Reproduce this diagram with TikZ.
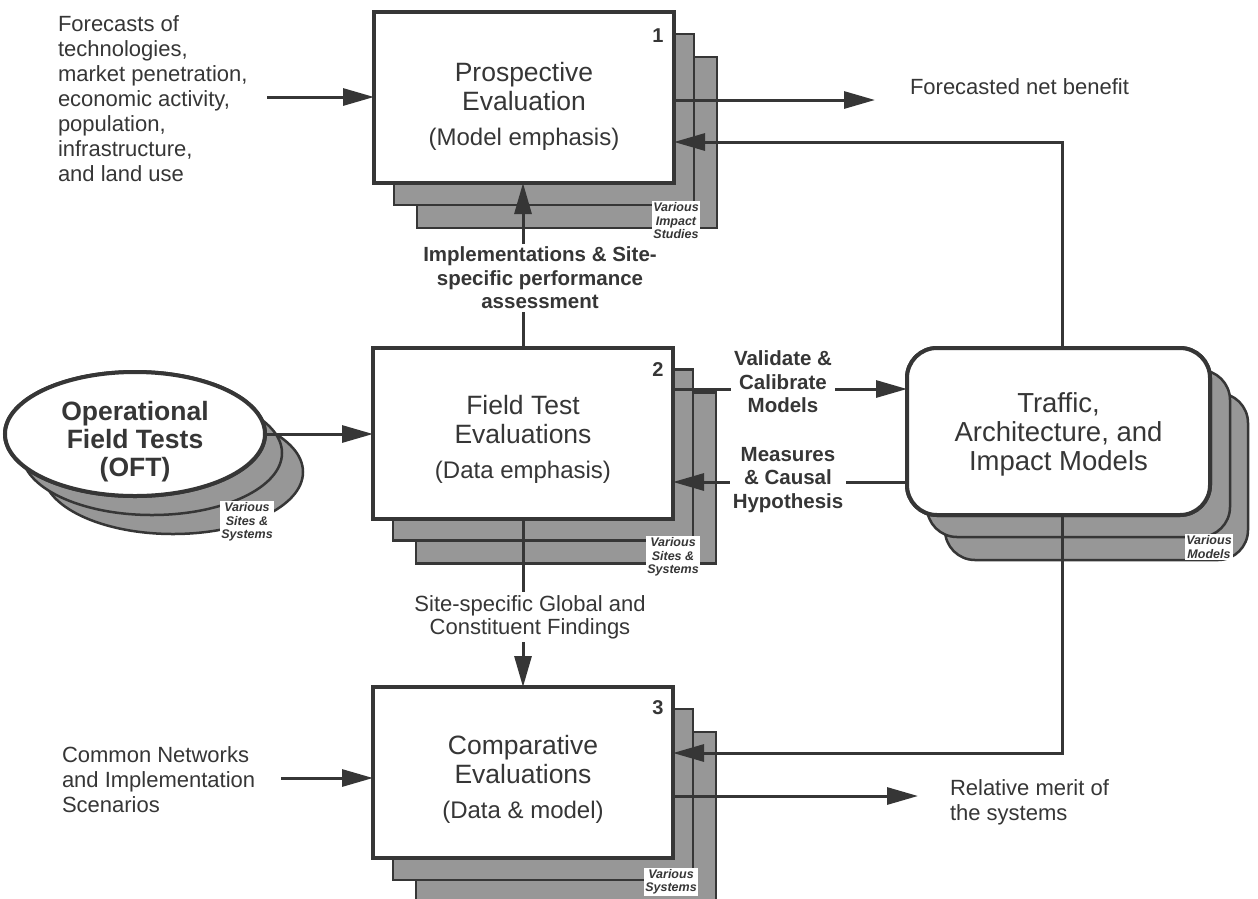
\documentclass[tikz,border=0pt]{standalone}
\usepackage{fontspec}
\setmainfont{Liberation Sans}
\usetikzlibrary{arrows.meta,shapes.geometric}
\definecolor{ink}{HTML}{363636}
\definecolor{shade}{HTML}{979797}
\begin{document}
\begin{tikzpicture}[x=1pt,y=-1pt,
  every node/.style={inner sep=0pt, outer sep=0pt, text=ink},
  frontbox/.style={draw=ink, line width=4pt, fill=white, minimum width=300pt, minimum height=171pt},
  layerbox/.style={draw=ink, line width=2.5pt, fill=shade, minimum width=300pt, minimum height=171pt},
  modelbox/.style={draw=ink, line width=4pt, fill=white, rounded corners=30pt, minimum width=303pt, minimum height=167pt},
  modellayer/.style={draw=ink, line width=2.5pt, fill=shade, rounded corners=30pt, minimum width=303pt, minimum height=167pt},
  oftshape/.style={ellipse, draw=ink, line width=4pt, fill=white, minimum width=260pt, minimum height=124pt},
  oftlayer/.style={ellipse, draw=ink, line width=2.5pt, fill=shade, minimum width=260pt, minimum height=124pt},
  boxtext/.style={align=center, font=\fontsize{26.5}{29}\selectfont},
  sidetext/.style={align=left, font=\fontsize{22}{25}\selectfont},
  conlabel/.style={align=center, fill=white, inner sep=3pt, font=\fontsize{20.5}{23.5}\selectfont\bfseries},
  conlabelreg/.style={align=center, fill=white, inner sep=3pt, font=\fontsize{22}{23}\selectfont},
  variouslabel/.style={align=center, fill=white, inner sep=1.5pt, font=\fontsize{12.5}{13.5}\selectfont\bfseries\itshape},
  numlabel/.style={font=\fontsize{20}{22}\selectfont\bfseries},
  conn/.style={draw=ink, line width=3pt},
  arr/.style={conn, -{Triangle[length=31pt,width=17pt]}}
]
\useasboundingbox[fill=white] (0,0) rectangle (1258,898);

% ---------- shadow layers ----------
\node[layerbox] (b1c) at (567,142.5) {};
\node[layerbox] (b1b) at (544,119.5) {};
\node[layerbox] (b2c) at (566,478) {};
\node[layerbox] (b2b) at (543,455) {};
\node[layerbox] (b3c) at (566,817.5) {};
\node[layerbox] (b3b) at (543,794.5) {};
\node[modellayer] (trc) at (1096.5,476.5) {};
\node[modellayer] (trb) at (1078.5,453.5) {};
\node[oftlayer] (oftc) at (173,472) {};
\node[oftlayer] (oftb) at (152,453) {};

% ---------- "various" labels ----------
\node[variouslabel] (v1) at (676,221) {Various\\Impact\\Studies};
\node[variouslabel] (v2) at (673,557) {Various\\Sites \&\\Systems};
\node[variouslabel] (v3) at (671,882) {Various\\Systems};
\node[variouslabel] (vt) at (1209,547) {Various\\Models};
\node[variouslabel] (vo) at (247,522) {Various\\Sites \&\\Systems};

% ---------- front shapes (for anchors) ----------
\node[frontbox] (b1) at (524,97.5) {};
\node[frontbox] (b2) at (523,433) {};
\node[frontbox] (b3) at (523,772.5) {};
\node[modelbox] (tr) at (1058.5,431.5) {};
\node[oftshape] (oft) at (135,434) {};

% ---------- side texts ----------
\node[sidetext, anchor=west] (fc) at (58,99) {Forecasts of\\technologies,\\market penetration,\\economic activity,\\population,\\infrastructure,\\and land use};
\node[sidetext, anchor=west] (cn) at (62,780) {Common Networks\\and Implementation\\Scenarios};
\node[sidetext, anchor=west] (fnb) at (910,87) {Forecasted net benefit};
\node[sidetext, anchor=west] (rm) at (950,802) {Relative merit of\\the systems};

\coordinate (fcA) at (267,97);
\coordinate (cnA) at (281,778);
\coordinate (fnbA) at (875,100);
\coordinate (rmA) at (918,796);
\coordinate (up1) at (1062,142);
\coordinate (dn3) at (1062,753);
\coordinate (va) at (800,389);
\coordinate (mh) at (800,482);

% ---------- connectors ----------
\draw[arr] (fcA) -- (fcA -| b1.west);
\draw[arr] (b1.east |- fnbA) -- (fnbA);
\draw[arr] (up1 |- tr.north) -- (up1) -- (up1 -| b1.east);
\draw[arr] (b2.north) -- (b2.north |- b1.south);
\draw[arr] (oft.east) -- (oft.east -| b2.west);
\draw[arr] (b2.east |- va) -- (va -| tr.west);
\draw[arr] (tr.west |- mh) -- (mh -| b2.east);
\draw[arr] (b2.south) -- (b2.south |- b3.north);
\draw[arr] (cnA) -- (cnA -| b3.west);
\draw[arr] (dn3 |- tr.south) -- (dn3) -- (dn3 -| b3.east);
\draw[arr] (b3.east |- rmA) -- (rmA);

% ---------- connector labels ----------
\node[conlabel] (l12) at (540,278) {Implementations \& Site-\\specific performance\\assessment};
\node[conlabel] (lva) at (783,382) {Validate \&\\Calibrate\\Models};
\node[conlabel] (lmh) at (788,480) {Measures\\\& Causal\\Hypothesis};
\node[conlabelreg] (l23) at (530,617) {Site-specific Global and\\Constituent Findings};

% ---------- front shapes redrawn on top ----------
\node[frontbox] at (b1) {};
\node[frontbox] at (b2) {};
\node[frontbox] at (b3) {};
\node[modelbox] at (tr) {};
\node[oftshape] at (oft) {};

% ---------- texts in shapes ----------
\node[boxtext] (t1) at (524,106) {Prospective\\Evaluation\\[6pt]\fontsize{24}{29}\selectfont(Model emphasis)};
\node[boxtext] (t2) at (523,439) {Field Test\\Evaluations\\[6pt]\fontsize{24}{29}\selectfont(Data emphasis)};
\node[boxtext] (t3) at (523,779) {Comparative\\Evaluations\\[6pt]\fontsize{24}{29}\selectfont(Data \& model)};
\node[align=center, font=\fontsize{27.5}{29}\selectfont] (tt) at (1058.5,434) {Traffic,\\Architecture, and\\Impact Models};
\node[align=center, font=\fontsize{26.5}{28}\selectfont\bfseries] (to) at (135,442) {Operational\\Field Tests\\(OFT)};

\node[numlabel] (n1) at (658,36) {1};
\node[numlabel] (n2) at (658,370) {2};
\node[numlabel] (n3) at (658,708) {3};
\end{tikzpicture}
\end{document}
